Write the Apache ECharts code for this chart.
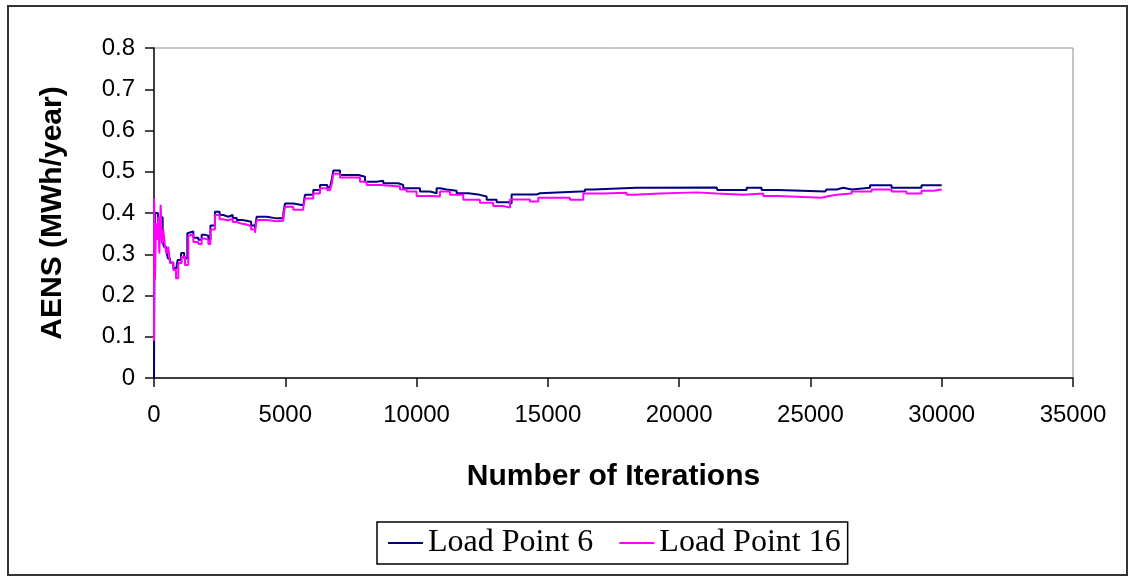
<!DOCTYPE html>
<html>
<head>
<meta charset="utf-8">
<title>AENS convergence</title>
<script src="https://cdn.jsdelivr.net/npm/echarts@6/dist/echarts.min.js"></script>
<style>
  html, body { margin: 0; padding: 0; background: #fff; }
  #chart { width: 1131px; height: 578px; }
</style>
</head>
<body>
<div id="chart"></div>
<script>
// 数据
const xTicks = [0, 5000, 10000, 15000, 20000, 25000, 30000, 35000];
const yTicks = [0, 0.1, 0.2, 0.3, 0.4, 0.5, 0.6, 0.7, 0.8];
const seriesNames = ['Load Point 6', 'Load Point 16'];

const lp6Iter = [0, 15, 40, 150, 250, 330, 380, 460, 530, 610, 735, 850, 900, 1030, 1150, 1270, 1345, 1500, 1690, 1815, 1950, 2070, 2150, 2320, 2500, 2640, 2830, 3000, 3150, 3350, 3530, 3700, 3846, 3910, 4290, 4670, 4925, 4990, 5305, 5686, 5750, 6066, 6321, 6600, 6700, 6767, 6830, 7083, 7464, 7780, 8035, 8480, 8732, 9303, 9493, 10130, 10510, 10765, 10890, 11146, 11527, 11970, 12414, 12669, 13050, 13490, 13620, 14573, 14700, 16220, 16410, 16730, 18380, 21430, 21450, 22440, 22570, 23140, 23775, 25550, 25620, 26000, 26250, 26570, 27270, 28090, 29230, 29610, 29680, 30000];
const lp6Aens = [0, 0.25, 0.40, 0.36, 0.39, 0.33, 0.318, 0.31, 0.29, 0.28, 0.266, 0.262, 0.286, 0.303, 0.29, 0.351, 0.355, 0.34, 0.335, 0.347, 0.345, 0.335, 0.37, 0.403, 0.395, 0.391, 0.395, 0.388, 0.383, 0.381, 0.379, 0.37, 0.363, 0.391, 0.387, 0.387, 0.399, 0.423, 0.419, 0.423, 0.444, 0.456, 0.468, 0.462, 0.46, 0.48, 0.503, 0.492, 0.492, 0.488, 0.476, 0.478, 0.472, 0.468, 0.46, 0.452, 0.448, 0.46, 0.457, 0.454, 0.448, 0.444, 0.44, 0.432, 0.426, 0.423, 0.445, 0.448, 0.452, 0.452, 0.457, 0.461, 0.462, 0.462, 0.456, 0.456, 0.461, 0.456, 0.452, 0.452, 0.457, 0.461, 0.457, 0.461, 0.467, 0.461, 0.467, 0.465, 0.467, 0.467];

const lp16Iter = [0, 5, 38, 76, 127, 165, 203, 254, 305, 355, 420, 482, 545, 609, 736, 838, 926, 1054, 1180, 1307, 1345, 1500, 1690, 1815, 1950, 2070, 2150, 2320, 2500, 2640, 2830, 3000, 3150, 3350, 3530, 3700, 3846, 3910, 4290, 4670, 4925, 4990, 5305, 5686, 5750, 6066, 6321, 6600, 6700, 6767, 6830, 7083, 7845, 8100, 8606, 9368, 9620, 10000, 10637, 10890, 11270, 11780, 12414, 12920, 13300, 13556, 14318, 14635, 15840, 16350, 17110, 18000, 18316, 19270, 20665, 21430, 22440, 23200, 23775, 25425, 25620, 26000, 26570, 27330, 28090, 28660, 29230, 29680, 30000];
const lp16Aens = [0.09, 0.436, 0.238, 0.375, 0.335, 0.391, 0.302, 0.42, 0.326, 0.359, 0.318, 0.302, 0.318, 0.279, 0.262, 0.242, 0.279, 0.294, 0.274, 0.345, 0.348, 0.33, 0.325, 0.338, 0.335, 0.325, 0.36, 0.395, 0.385, 0.382, 0.386, 0.378, 0.374, 0.372, 0.368, 0.36, 0.352, 0.383, 0.38, 0.381, 0.39, 0.415, 0.408, 0.413, 0.435, 0.447, 0.46, 0.455, 0.452, 0.47, 0.495, 0.486, 0.476, 0.468, 0.464, 0.457, 0.452, 0.441, 0.44, 0.452, 0.444, 0.432, 0.425, 0.417, 0.413, 0.433, 0.428, 0.437, 0.432, 0.447, 0.449, 0.444, 0.447, 0.45, 0.447, 0.444, 0.447, 0.441, 0.437, 0.44, 0.444, 0.447, 0.452, 0.457, 0.452, 0.447, 0.454, 0.457, 0.457];

const toPairs = (xs, ys) => xs.map((x, i) => [x, ys[i]]);

const sansFont = '"Liberation Sans", Arial, sans-serif';
const chart = echarts.init(document.getElementById('chart'));

chart.setOption({
  animation: false,
  backgroundColor: '#fff',
  // 外框
  graphic: [{
    type: 'rect',
    shape: { x: 8, y: 6, width: 1119, height: 569 },
    style: { fill: 'none', stroke: '#333', lineWidth: 2 },
    silent: true
  }],
  grid: {
    left: 154,
    right: 58,
    top: 48,
    bottom: 200,
    show: true,
    borderColor: '#8c8c8c',
    borderWidth: 1
  },
  legend: {
    left: 377,
    top: 522,
    data: seriesNames,
    icon: 'rect',
    itemWidth: 35,
    itemHeight: 2,
    itemGap: 26,
    padding: [5, 7, 5, 11],
    borderColor: '#000',
    borderWidth: 1.5,
    textStyle: {
      fontFamily: '"Liberation Serif", "Times New Roman", serif',
      fontSize: 32,
      color: '#000'
    }
  },
  xAxis: {
    type: 'value',
    min: xTicks[0],
    max: xTicks[xTicks.length - 1],
    interval: xTicks[1] - xTicks[0],
    name: 'Number of Iterations',
    nameLocation: 'middle',
    nameGap: 84,
    nameTextStyle: { fontFamily: sansFont, fontWeight: 'bold', fontSize: 30, color: '#000' },
    axisLine: { onZero: false, lineStyle: { color: '#111', width: 1.5 } },
    axisTick: { show: true, length: 9, lineStyle: { color: '#111', width: 1.5 } },
    axisLabel: {
      margin: 25,
      fontFamily: sansFont,
      fontSize: 24,
      color: '#000',
      formatter: (v) => String(v)
    },
    splitLine: { show: false }
  },
  yAxis: {
    type: 'value',
    min: yTicks[0],
    max: yTicks[yTicks.length - 1],
    interval: 0.1,
    name: 'AENS (MWh/year)',
    nameLocation: 'middle',
    nameGap: 86,
    nameTextStyle: { fontFamily: sansFont, fontWeight: 'bold', fontSize: 30, color: '#000' },
    axisLine: { show: true, lineStyle: { color: '#111', width: 1.5 } },
    axisTick: { show: true, length: 9, lineStyle: { color: '#111', width: 1.5 } },
    axisLabel: { margin: 19, fontFamily: sansFont, fontSize: 24, color: '#000' },
    splitLine: { show: false }
  },
  series: [
    {
      name: seriesNames[0],
      type: 'line',
      step: 'end',
      showSymbol: false,
      symbol: 'none',
      color: '#000080',
      lineStyle: { color: '#000080', width: 2 },
      data: toPairs(lp6Iter, lp6Aens)
    },
    {
      name: seriesNames[1],
      type: 'line',
      step: 'end',
      showSymbol: false,
      symbol: 'none',
      color: '#ff00ff',
      lineStyle: { color: '#ff00ff', width: 2 },
      data: toPairs(lp16Iter, lp16Aens)
    }
  ]
});
</script>
</body>
</html>
